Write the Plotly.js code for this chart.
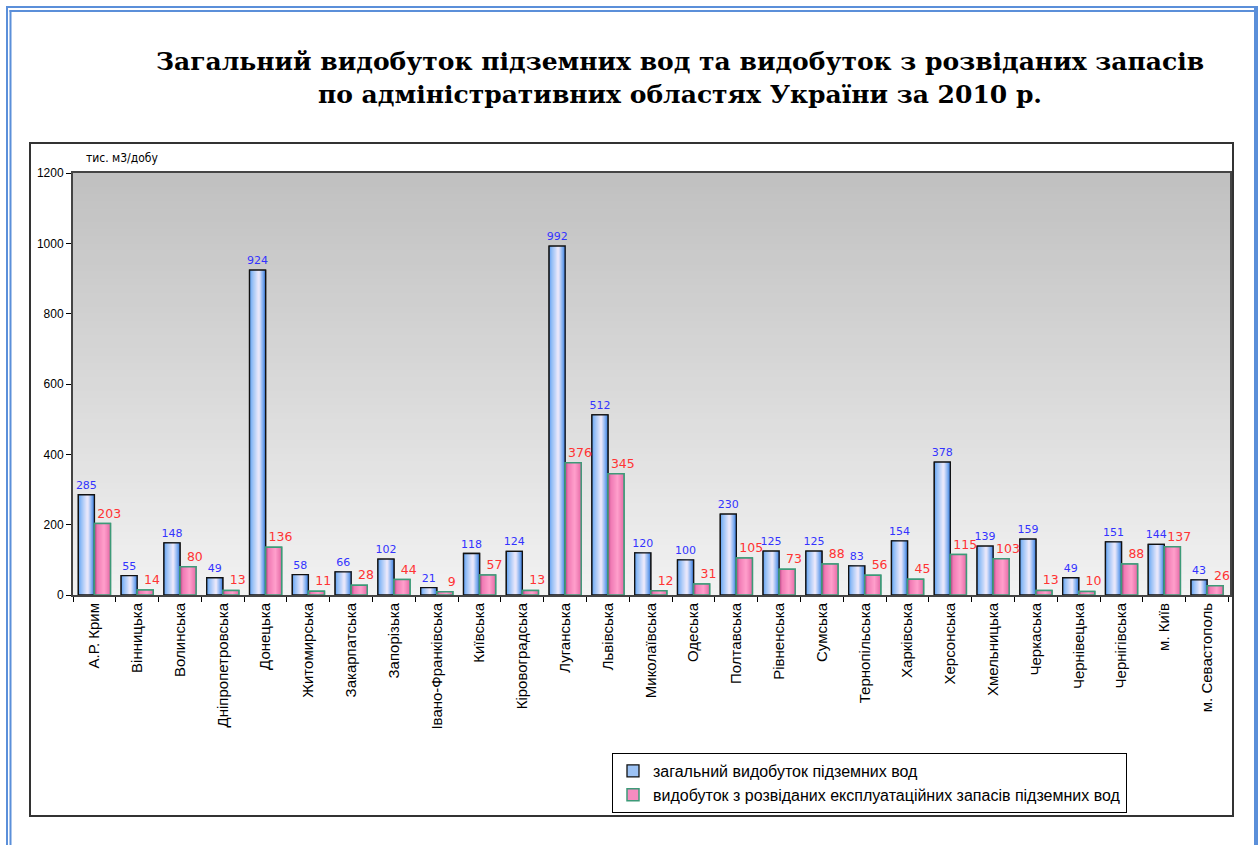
<!DOCTYPE html>
<html><head><meta charset="utf-8">
<script src="https://cdn.plot.ly/plotly-3.0.1.min.js"></script>
<style>html,body{margin:0;padding:0;background:#fff;overflow:hidden}#chart{width:1259px;height:845px}</style>
</head><body><div id="chart"></div>
<script>
// ---------- data ----------
const regions = ['А.Р. Крим','Вінницька','Волинська','Дніпропетровська','Донецька','Житомирська','Закарпатська','Запорізька','Івано-Франківська','Київська','Кіровоградська','Луганська','Львівська','Миколаївська','Одеська','Полтавська','Рівненська','Сумська','Тернопільська','Харківська','Херсонська','Хмельницька','Черкаська','Чернівецька','Чернігівська','м. Київ','м. Севастополь'];
const totalProduction = [285,55,148,49,924,58,66,102,21,118,124,992,512,120,100,230,125,125,83,154,378,139,159,49,151,144,43];
const exploredProduction = [203,14,80,13,136,11,28,44,9,57,13,376,345,12,31,105,73,88,56,45,115,103,13,10,88,137,26];
const seriesNames = ['загальний видобуток підземних вод','видобуток з розвіданих експлуатаційних запасів підземних вод'];
const yTicks = [0,200,400,600,800,1000,1200];
const titleLines = ['Загальний видобуток підземних вод та видобуток з розвіданих запасів','по адміністративних областях України за 2010 р.'];
const unitLabel = 'тис. м3/добу';

// ---------- geometry (pixels) ----------
const W=1259, H=845, ML=73, MR=29, MT=173, MB=250;
const PW=W-ML-MR, PH=H-MT-MB;
const px = v => (v-ML)/PW;
const py = v => (H-MB-v)/PH;

function hex2rgb(h){h=h.replace('#','');return [0,2,4].map(i=>parseInt(h.substr(i,2),16));}
function lerpStops(stops,t){
  for(let i=0;i<stops.length-1;i++){
    const s0=stops[i],s1=stops[i+1];
    if(t>=s0[0]&&t<=s1[0]){const f=(t-s0[0])/(s1[0]-s0[0]||1);const a=hex2rgb(s0[1]),b=hex2rgb(s1[1]);
      return 'rgb('+a.map((v,j)=>Math.round(v+(b[j]-v)*f)).join(',')+')';}
  }
  return stops[stops.length-1][1];
}

const blueStops=[[0,'#5c9cf0'],[0.15,'#8ebcf6'],[0.58,'#f2ecfb'],[0.85,'#78aaf0'],[1,'#3a74d4']];
const pinkStops=[[0,'#a8407a'],[0.18,'#f07ab4'],[0.6,'#ffa0cc'],[1,'#e66aa6']];

function gradientTraces(values,stops,offset,width,lineColor,lineWidth,legendColor,name,textColor,textSize,textShift,group){
  const tr=[];
  tr.push({type:'bar',x:regions,y:values,name:name,legendgroup:group,showlegend:true,offset:offset,width:width,
    marker:{color:legendColor,line:{color:lineColor,width:lineWidth}},hoverinfo:'skip'});
  const N=14, d=width/N;
  for(let k=0;k<N;k++){
    tr.push({type:'bar',x:regions,y:values,legendgroup:group,showlegend:false,offset:offset+k*d,width:width-k*d,
      marker:{color:lerpStops(stops,(k+0.5)/N),line:{width:0}},hoverinfo:'skip'});
  }
  tr.push({type:'bar',x:regions,y:values,legendgroup:group,showlegend:false,offset:offset,width:width,
    marker:{color:'rgba(0,0,0,0)',line:{color:lineColor,width:lineWidth}},hoverinfo:'skip'});
  // value labels (transparent carrier bars, label shifted a little as in the original)
  tr.push({type:'bar',x:regions,y:values,legendgroup:group,showlegend:false,offset:offset+textShift,width:width,
    marker:{color:'rgba(0,0,0,0)',line:{width:0}},
    text:values.map(String),textposition:'outside',constraintext:'none',cliponaxis:false,
    textfont:{family:'DejaVu Sans',size:textSize,color:textColor},hoverinfo:'skip'});
  return tr;
}

const data=[].concat(
  gradientTraces(totalProduction,blueStops,-0.375,0.375,'#111111',1.3,'#9cc2f4',seriesNames[0],'#3333ff',11,0,'g1'),
  gradientTraces(exploredProduction,pinkStops,0,0.375,'#3d9a78',1.5,'#f48cc0',seriesNames[1],'#ff3333',12.5,0.16,'g2')
);

// ---------- decorations ----------
const shapes=[];
const NB=60, bgTop=hex2rgb('#c0c0c0'), bgBot=hex2rgb('#f2f2f2');
for(let k=0;k<NB;k++){
  const f=(k+0.5)/NB;
  const c='rgb('+bgBot.map((v,j)=>Math.round(v+(bgTop[j]-v)*f)).join(',')+')';
  shapes.push({type:'rect',xref:'paper',yref:'paper',x0:0,x1:1,y0:k/NB,y1:1,fillcolor:c,line:{width:0},layer:'below'});
}
const frameBlue='#5B8FD9';
shapes.push({type:'line',xref:'paper',yref:'paper',x0:px(7),x1:px(7),y0:py(6),y1:py(860),line:{color:frameBlue,width:2},layer:'below'});
shapes.push({type:'line',xref:'paper',yref:'paper',x0:px(10.5),x1:px(10.5),y0:py(10),y1:py(860),line:{color:frameBlue,width:2},layer:'below'});
shapes.push({type:'line',xref:'paper',yref:'paper',x0:px(6),x1:px(1258),y0:py(7),y1:py(7),line:{color:frameBlue,width:2},layer:'below'});
shapes.push({type:'line',xref:'paper',yref:'paper',x0:px(9.5),x1:px(1255),y0:py(11),y1:py(11),line:{color:frameBlue,width:2},layer:'below'});
shapes.push({type:'line',xref:'paper',yref:'paper',x0:px(1256),x1:px(1256),y0:py(6),y1:py(860),line:{color:frameBlue,width:4},layer:'below'});
shapes.push({type:'rect',xref:'paper',yref:'paper',x0:px(30),x1:px(1233),y0:py(816),y1:py(143),line:{color:'#333333',width:2},fillcolor:'rgba(0,0,0,0)',layer:'below'});

const layout={
  width:W,height:H,autosize:false,
  margin:{l:ML,r:MR,t:MT,b:MB,pad:0},
  paper_bgcolor:'#ffffff',plot_bgcolor:'rgba(0,0,0,0)',
  barmode:'overlay',
  showlegend:true,
  title:{text:titleLines.join('<br>'),xref:'container',yref:'container',x:680/W,xanchor:'center',y:1-70/H,yanchor:'top',
    font:{family:'DejaVu Serif',size:25,color:'#000',weight:'bold'}},
  xaxis:{type:'category',showgrid:false,zeroline:false,showline:true,mirror:true,linecolor:'#444',linewidth:2,
    ticks:'outside',tickson:'boundaries',ticklen:5,tickwidth:1,tickcolor:'#000',tickangle:-90,
    tickfont:{family:'Liberation Sans',size:15,color:'#000'},fixedrange:true},
  yaxis:{range:[0,1200],tickvals:yTicks,ticktext:yTicks.map(String),showgrid:false,zeroline:false,showline:true,mirror:true,
    linecolor:'#444',linewidth:2,ticks:'outside',ticklen:5,tickwidth:1,tickcolor:'#000',
    tickfont:{family:'Liberation Sans',size:12,color:'#000'},fixedrange:true},
  legend:{x:px(612),y:py(753),xanchor:'left',yanchor:'top',xref:'paper',yref:'paper',bgcolor:'#fff',bordercolor:'#000',borderwidth:1,
    font:{family:'Liberation Sans',size:16,color:'#000'},traceorder:'grouped',tracegroupgap:0},
  annotations:[{text:unitLabel,xref:'paper',yref:'paper',x:px(84),y:py(158),xanchor:'left',yanchor:'middle',showarrow:false,
    font:{family:'DejaVu Sans Condensed, DejaVu Sans',size:12,color:'#000'}}],
  shapes:shapes
};
Plotly.newPlot('chart',data,layout,{displayModeBar:false,staticPlot:true});
</script></body></html>
